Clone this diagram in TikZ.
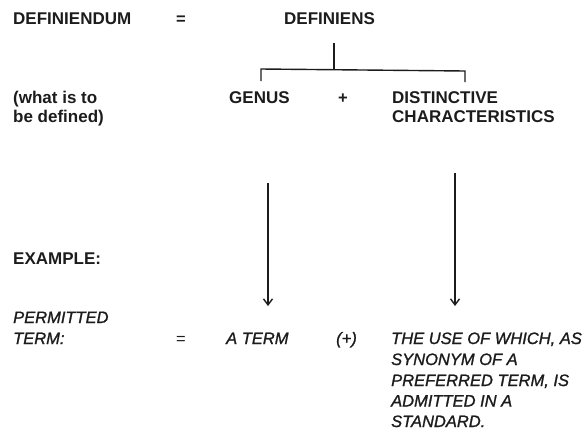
\documentclass[tikz,border=0pt]{standalone}
\usepackage{fontspec}
\setmainfont{Liberation Sans}
\newfontfamily\exfont[FakeBold=1.2]{Liberation Sans Italic}
\usetikzlibrary{arrows.meta}
\definecolor{ink}{HTML}{1C1C1C}
\begin{document}
\begin{tikzpicture}[x=1pt,y=-1pt,
  lab/.style={anchor=base west,inner sep=0pt,text=ink,font=\fontsize{17}{18}\selectfont\bfseries},
  ex/.style={anchor=base west,inner sep=0pt,text=ink,font=\fontsize{16.5}{18}\selectfont\exfont},
  sym/.style={anchor=base,inner sep=0pt,text=ink,font=\fontsize{16.5}{18}\selectfont},
  ln/.style={draw=ink,line width=1.4pt},
  arr/.style={draw=ink,line width=1.4pt,-{Straight Barb[length=6pt,width=9pt,line width=1.4pt]}}]
\useasboundingbox (0,0) rectangle (588,432);
% top row
\node[lab] (dum) at (13,24) {DEFINIENDUM};
\node[sym,font=\fontsize{16.5}{18}\selectfont\bfseries] (eq1) at (181,24) {=};
\node[lab] (dens) at (284,24) {DEFINIENS};
% bracket
\coordinate (st) at (334,43);
\coordinate (sj) at (334,70);
\coordinate (bl) at (261,69);
\coordinate (br) at (465,71);
\coordinate (blb) at (261,81);
\coordinate (brb) at (465,82);
\draw[ln] (st) -- (sj);
\draw[ln] (blb) -- (bl) -- (br) -- (brb);
% second row
\node[lab] (w1) at (13,103) {(what is to};
\node[lab] (w2) at (13,122) {be defined)};
\node[lab] (gen) at (229,103) {GENUS};
\node[sym,font=\fontsize{16.5}{18}\selectfont\bfseries] (pl) at (343,103) {+};
\node[lab] (dc1) at (392,103) {DISTINCTIVE};
\node[lab] (dc2) at (392,122) {CHARACTERISTICS};
% arrows
\coordinate (a1s) at (268,183);
\coordinate (a1e) at (268,306);
\coordinate (a2s) at (455,173);
\coordinate (a2e) at (455,306);
\draw[arr] (a1s) -- (a1e);
\draw[arr] (a2s) -- (a2e);
% example
\node[lab] (exl) at (13,264) {EXAMPLE:};
\node[ex] (p1) at (13,323) {PERMITTED};
\node[ex] (p2) at (13,344) {TERM:};
\node[sym] (eq2) at (181,344) {=};
\node[ex] (at) at (226,344) {A TERM};
\node[ex] (pp) at (336,344) {(+)};
\node[ex] (t1) at (391,344) {THE USE OF WHICH, AS};
\node[ex] (t2) at (391,365) {SYNONYM OF A};
\node[ex] (t3) at (391,386) {PREFERRED TERM, IS};
\node[ex] (t4) at (391,406.5) {ADMITTED IN A};
\node[ex] (t5) at (391,427) {STANDARD.};
\end{tikzpicture}
\end{document}
